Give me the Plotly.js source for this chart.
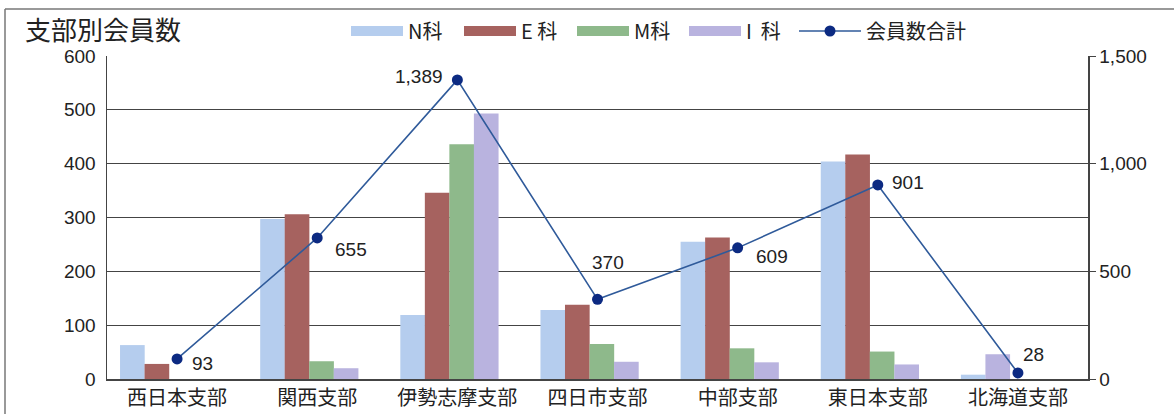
<!DOCTYPE html>
<html>
<head>
<meta charset="utf-8">
<script src="https://cdn.plot.ly/plotly-3.0.1.min.js"></script>
<style>html,body{margin:0;padding:0;background:#fff;}#chart{width:1174px;height:414px;}</style>
</head>
<body>
<div id="chart"></div>
<script>
const branches = ['西日本支部','関西支部','伊勢志摩支部','四日市支部','中部支部','東日本支部','北海道支部'];
const nKa = [63, 297, 119, 128, 255, 404, 8];
const eKa = [28, 306, 346, 138, 263, 417, 0];
const mKa = [0, 33, 436, 65, 57, 51, 0];
const iKa = [0, 20, 493, 32, 31, 27, 46];
const totals = [93, 655, 1389, 370, 609, 901, 28];
const seriesNames = ['N科', 'E 科', 'M科', 'I  科', '会員数合計'];

// style: label offsets (px), bar slot offsets (category units), legend positions (px)
const labelShift = [[25,-5],[34,-12],[-38,3],[10,37],[34,-9],[30,2],[16,18]];
const slotN = -0.407, slotE = -0.232, slotM = -0.057, slotI = 0.118;
const iOffsets = branches.map((b,i) => i === 6 ? slotE : slotI);
const barW = 0.176;
const legendX = [346, 459, 572, 684, 794];

const colors = ['#b5cdee', '#a6625f', '#8eb98b', '#b9b3df'];
const cjk = '"Noto Sans CJK JP", "Liberation Sans", sans-serif';
const num = '"Liberation Sans", Arial, sans-serif';
const L = 107, R = 1088, T = 56, B = 379;
const W = R - L, H = B - T;
const px = x => (x - L) / W;
const py = y => (B - y) / H;

const bar = (y, c, off) => ({type:'bar', x:branches, y:y, width:barW, offset:off,
  marker:{color:c, line:{width:0}}, showlegend:false});
const legendBar = (name, c, lg) => ({type:'scatter', mode:'lines', x:[null], y:[null], name:name,
  line:{color:c, width:10}, hoverinfo:'skip', legend:lg});

const traces = [
  bar(nKa, colors[0], slotN),
  bar(eKa, colors[1], slotE),
  bar(mKa, colors[2], slotM),
  bar(iKa, colors[3], iOffsets),
  legendBar(seriesNames[0], colors[0], 'legend'),
  legendBar(seriesNames[1], colors[1], 'legend2'),
  legendBar(seriesNames[2], colors[2], 'legend3'),
  legendBar(seriesNames[3], colors[3], 'legend4'),
  {type:'scatter', mode:'lines+markers', x:branches, y:totals, yaxis:'y2', name:seriesNames[4],
   line:{color:'#2f5a9a', width:1.6}, marker:{color:'#0c2a82', size:11}, legend:'legend5'}
];

const annotations = totals.map((v,i) => ({
  x: branches[i], y: v, xref:'x', yref:'y2', text: v.toLocaleString('en-US'),
  showarrow:false, xshift: labelShift[i][0], yshift: labelShift[i][1],
  font:{family:num, size:19, color:'#222'}
}));

const legendStyle = (xp, iw) => ({orientation:'h', x:px(xp), xanchor:'left', y:py(31), yanchor:'middle',
  font:{family:cjk, size:20, color:'#222'}, itemwidth:iw, bgcolor:'rgba(0,0,0,0)', itemclick:false});

const layout = {
  width:1174, height:414,
  margin:{l:L, r:1174-R, t:T, b:414-B, pad:0},
  paper_bgcolor:'#fff', plot_bgcolor:'#fff',
  title:{text:'支部別会員数', x:25/1174, xanchor:'left', y:1-31/414, yanchor:'middle',
         font:{family:cjk, size:26, color:'#222'}},
  showlegend:true,
  legend: legendStyle(legendX[0], 52),
  legend2: legendStyle(legendX[1], 52),
  legend3: legendStyle(legendX[2], 52),
  legend4: legendStyle(legendX[3], 52),
  legend5: legendStyle(legendX[4], 62),
  xaxis:{type:'category', showline:true, linecolor:'#444', linewidth:1.5, ticks:'',
         tickfont:{family:cjk, size:20, color:'#222'}},
  yaxis:{range:[0,600], dtick:100, showgrid:true, gridcolor:'#444', gridwidth:1.2,
         showline:true, linecolor:'#444', linewidth:1.5, ticks:'', zeroline:false,
         tickfont:{family:num, size:19, color:'#222'}, ticklabelstandoff:6},
  yaxis2:{overlaying:'y', side:'right', range:[0,1500], tickvals:[0,500,1000,1500],
          tickformat:',', showgrid:false, showline:true, linecolor:'#444', linewidth:1.5,
          ticks:'outside', ticklen:6, tickcolor:'#444', zeroline:false,
          tickfont:{family:num, size:19, color:'#222'}},
  annotations: annotations,
  shapes:[
    {type:'line', xref:'paper', yref:'paper', x0:px(5), x1:px(1180), y0:py(9), y1:py(9), line:{color:'#777', width:1.5}},
    {type:'line', xref:'paper', yref:'paper', x0:px(5), x1:px(5), y0:py(9), y1:py(420), line:{color:'#777', width:1.5}}
  ]
};

Plotly.newPlot('chart', traces, layout, {staticPlot:true, displayModeBar:false});
</script>
</body>
</html>
